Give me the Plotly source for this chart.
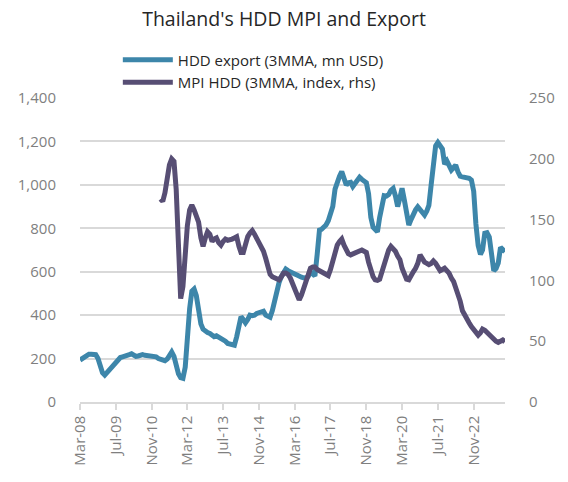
import plotly.graph_objects as go
import pandas as pd

months = pd.date_range("2008-03-01", periods=191, freq="MS")

tick_dates = ["2008-03-01", "2009-07-01", "2010-11-01", "2012-03-01", "2013-07-01",
              "2014-11-01", "2016-03-01", "2017-07-01", "2018-11-01", "2020-03-01",
              "2021-07-01", "2022-11-01"]
tick_labels = ["Mar-08", "Jul-09", "Nov-10", "Mar-12", "Jul-13", "Nov-14",
               "Mar-16", "Jul-17", "Nov-18", "Mar-20", "Jul-21", "Nov-22"]

hdd_export = [
    193, 200, 210, 218, 220, 220, 220, 218, 200, 165,
    135, 124, 135, 148, 158, 170, 185, 200, 205, 208,
    210, 215, 218, 222, 215, 210, 212, 216, 218, 215,
    213, 212, 214, 212, 208, 200, 196, 193, 190, 198,
    215, 230, 210, 165, 130, 112, 109, 160, 300, 430,
    510, 520, 490, 420, 360, 335, 325, 320, 316, 305,
    301, 305, 300, 295, 288, 280, 270, 267, 265, 262,
    300, 360, 393, 380, 365, 380, 400, 398, 400, 408,
    412, 420, 418, 400, 393, 390, 420, 470, 510, 550,
    577, 600, 612, 605, 598, 592, 590, 585, 578, 575,
    572, 570, 578, 600, 590, 580, 680, 792, 795, 805,
    815, 835, 860, 900, 980, 1020, 1040, 1061, 1030, 999,
    1010, 1012, 992, 1010, 1025, 1035, 1025, 1015, 1010, 960,
    850, 805, 795, 784, 850, 900, 950, 948, 955, 975,
    984, 950, 900, 940, 984, 930, 880, 815, 840, 869,
    885, 899, 885, 870, 861, 880, 905, 1000, 1100, 1180,
    1195, 1180, 1165, 1095, 1110, 1090, 1068, 1080, 1091, 1060,
    1040, 1037, 1035, 1037, 1030, 1022, 970, 820, 720, 680,
    700, 777, 780, 760, 669, 605, 615, 640, 712, 705,
    692,
]

mpi_hdd = [None] * 36 + [
    167, 165, 172, 185, 195, 200, 198, 175, 130, 85,
    95, 125, 145, 158, 162, 158, 154, 148, 135, 128,
    135, 140, 138, 132, 134, 135, 131, 129, 132, 134,
    133, 133, 134, 135, 136, 128, 123, 123, 130, 136,
    139, 141, 138, 135, 131, 128, 124, 118, 110, 105,
    103, 102, 101, 100.5, 103, 106, 106, 105, 102, 98,
    94, 88, 84, 88, 93, 99, 106, 110, 111, 111,
    109, 108, 107, 105, 104, 104, 109, 117, 123, 129,
    132, 134, 129, 124, 122, 121, 122, 123, 124, 125,
    125, 124, 123, 115, 107, 103, 100.5, 100, 101, 107,
    115, 120, 125, 128, 126, 124, 120, 117, 110, 104,
    101, 100.5, 103, 107, 110, 114, 121, 118, 115, 114,
    113, 114, 116, 114, 110, 108, 109, 110, 108, 106,
    102, 99, 94, 89, 83, 75, 71, 68, 65, 62,
    60, 57, 55, 57, 60, 59, 57, 55, 53, 51,
    50, 49, 50, 51, 49.5,
]

left_ticks = [0, 200, 400, 600, 800, 1000, 1200, 1400]
right_ticks = [0, 50, 100, 150, 200, 250]

BLUE = "#3D86AA"
PURPLE = "#574E74"
GRID = "#D9D9D9"
TICKFONT = dict(family="Open Sans", size=15, color="#7F7F7F")

fig = go.Figure()
fig.add_trace(go.Scatter(x=months, y=hdd_export, name="HDD export (3MMA, mn USD)",
                         mode="lines", line=dict(color=BLUE, width=5), yaxis="y"))
fig.add_trace(go.Scatter(x=months, y=mpi_hdd, name="MPI HDD (3MMA, index, rhs)",
                         mode="lines", line=dict(color=PURPLE, width=5), yaxis="y2",
                         connectgaps=False))

fig.update_layout(
    width=568, height=482,
    margin=dict(l=80, r=63, t=98, b=80, autoexpand=False),
    paper_bgcolor="white", plot_bgcolor="white",
    title=dict(text="Thailand's HDD MPI and Export", x=0.5, xanchor="center",
               y=1 - 19 / 482, yanchor="middle",
               font=dict(family="Open Sans", size=19.5, color="#262626")),
    showlegend=True,
    legend=dict(x=0.089, xanchor="left", y=1.179, yanchor="top",
                font=dict(family="Open Sans", size=15, color="#262626"),
                itemwidth=50, tracegroupgap=0, bgcolor="rgba(0,0,0,0)"),
    xaxis=dict(
        type="date", range=["2008-03-01", "2024-01-01"], automargin=False,
        tickvals=tick_dates, ticktext=tick_labels, tickangle=-90,
        tickfont=TICKFONT, showgrid=False, zeroline=False,
        showline=True, linecolor=GRID, linewidth=1.5,
        ticks="outside", ticklen=6, tickcolor=GRID, tickwidth=1.5,
    ),
    yaxis=dict(
        range=[0, 1400], tickvals=left_ticks, automargin=False,
        ticktext=[f"{v:,}" for v in left_ticks],
        tickfont=TICKFONT, showgrid=True, gridcolor=GRID, gridwidth=1.5,
        zeroline=False, showline=False,
        ticks="outside", ticklen=20, tickcolor="rgba(0,0,0,0)",
    ),
    yaxis2=dict(
        range=[0, 250], tickvals=right_ticks, automargin=False,
        ticktext=[str(v) for v in right_ticks],
        overlaying="y", side="right",
        tickfont=TICKFONT, showgrid=False, zeroline=False, showline=False,
        ticks="outside", ticklen=20, tickcolor="rgba(0,0,0,0)",
    ),
)

# remove the default 8px page margin so the figure fills the window exactly
fig.write_html("out.html", config={"displayModeBar": False},
               post_script="document.body.style.margin='0px';")
